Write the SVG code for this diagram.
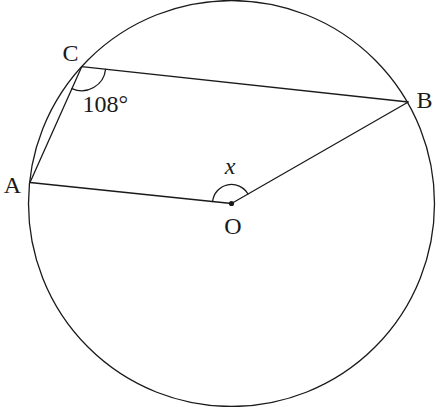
<svg xmlns="http://www.w3.org/2000/svg" width="440" height="407" viewBox="0 0 440 407">
<style>
.ln{fill:none;stroke:#1a1a1a;stroke-width:1.3;stroke-linecap:round;stroke-linejoin:round}
.lb{font-family:"Liberation Serif","DejaVu Serif",serif;font-size:24px;fill:#1a1a1a}
</style>
<rect width="440" height="407" fill="#fff"/>
<g id="circle"><circle class="ln" cx="231.5" cy="203.5" r="203"/></g>
<g id="connectors">
<path class="ln" d="M81.7,66.7 L408.3,102 L231.5,203.5 L30,182.5 Z"/>
<path class="ln" d="M212.6,201.5 A19,19 0 0 1 248,194"/>
<path class="ln" d="M105.6,69.3 A24,24 0 0 1 71.9,88.6"/>
</g>
<g id="O"><circle cx="231.5" cy="203.5" r="2.6" fill="#1a1a1a"/><text class="lb" x="233" y="233.5" text-anchor="middle">O</text></g>
<g id="A"><text class="lb" x="12.5" y="193.3" text-anchor="middle">A</text></g>
<g id="B"><text class="lb" x="424.5" y="108.3" text-anchor="middle">B</text></g>
<g id="C"><text class="lb" x="70.5" y="60.7" text-anchor="middle">C</text></g>
<g id="angleC"><text class="lb" x="82.5" y="111.7">108°</text></g>
<g id="angleO"><text class="lb" x="230" y="174" text-anchor="middle" font-style="italic">x</text></g>
</svg>
